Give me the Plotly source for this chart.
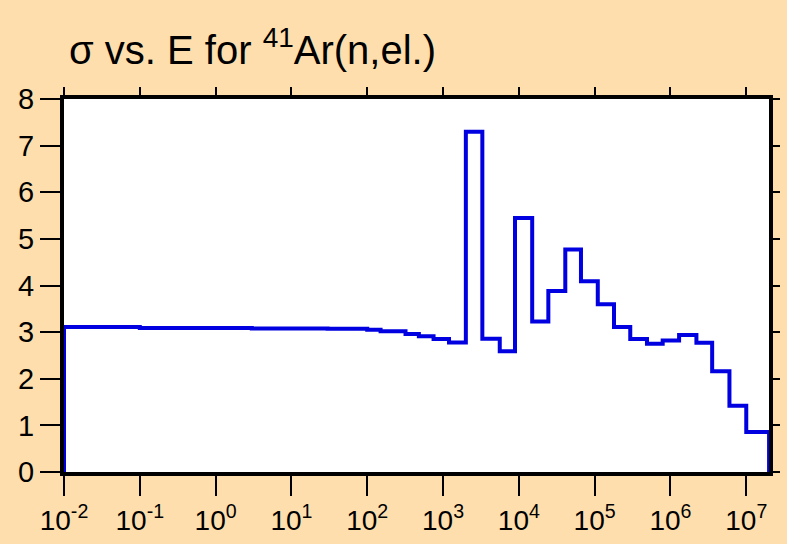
import plotly.graph_objects as go

# Bin edges (eV) and elastic cross sections (b) for 41Ar
edges = [1e-2, 1e-1, 0.5, 3, 10, 30, 100, 150, 320, 480, 750, 1.2e3,
         2.0e3, 3.3e3, 5.6e3, 8.9e3, 1.5e4, 2.45e4, 4.1e4, 6.6e4, 1.1e5,
         1.8e5, 2.95e5, 4.9e5, 7.9e5, 1.3e6, 2.2e6, 3.55e6, 6.0e6, 1.0e7, 2.0e7]
sigma = [3.11, 3.09, 3.09, 3.08, 3.08, 3.07, 3.05, 3.02, 2.96, 2.91, 2.85,
         2.78, 7.30, 2.86, 2.59, 5.45, 3.23, 3.88, 4.77, 4.09, 3.60, 3.11,
         2.85, 2.75, 2.82, 2.94, 2.77, 2.16, 1.42, 0.86]

xtick_vals = [10.0 ** p for p in range(-2, 8)]
xtick_text = ["10<sup>%d</sup>" % p for p in range(-2, 8)]
ytick_vals = list(range(0, 9))

# Histogram outline drawn as a step line
x_step = [edges[0]] + edges + [edges[-1]]
y_step = [0] + sigma + [sigma[-1], 0]

font_name = "Liberation Sans, Arial, sans-serif"
x_range = [-2, 7.3]

fig = go.Figure()
fig.add_trace(go.Scatter(
    x=x_step, y=y_step, mode="lines", line_shape="hv",
    line=dict(color="rgb(0,0,225)", width=4),
    hoverinfo="skip", showlegend=False,
))
# dummy trace so the top/right tick axes are drawn
fig.add_trace(go.Scatter(
    x=[1e3], y=[4], xaxis="x2", yaxis="y2", mode="markers",
    marker=dict(opacity=0), hoverinfo="skip", showlegend=False,
))

fig.update_layout(
    width=787, height=544,
    margin=dict(l=64, r=18, t=99, b=72),
    paper_bgcolor="#FFDEAD",
    plot_bgcolor="white",
    font=dict(family=font_name, size=28, color="black"),
    title=dict(
        text="σ vs. E for <sup>41</sup>Ar(n,el.)",
        font=dict(family=font_name, size=40, color="black"),
        x=69 / 787, xanchor="left", xref="container",
        y=1 - 50 / 544, yanchor="middle", yref="container",
        automargin=False,
    ),
    xaxis=dict(
        type="log", range=x_range,
        tickvals=xtick_vals, ticktext=xtick_text,
        ticks="outside", ticklen=20, tickwidth=2, tickcolor="black",
        showline=True, linewidth=4, linecolor="black", mirror=True,
        showgrid=False, zeroline=False, automargin=False,
        tickfont=dict(size=28),
    ),
    yaxis=dict(
        range=[0, 8], tickvals=ytick_vals,
        ticks="outside", ticklen=20, tickwidth=2, tickcolor="black",
        showline=True, linewidth=4, linecolor="black", mirror=True,
        showgrid=False, zeroline=False, automargin=False,
        tickfont=dict(size=29),
    ),
    xaxis2=dict(
        type="log", range=x_range, overlaying="x", side="top",
        tickvals=xtick_vals, showticklabels=False,
        ticks="outside", ticklen=11, tickwidth=2, tickcolor="black",
        showline=False, showgrid=False, zeroline=False, automargin=False,
    ),
    yaxis2=dict(
        range=[0, 8], overlaying="y", side="right",
        tickvals=ytick_vals, showticklabels=False,
        ticks="outside", ticklen=10, tickwidth=2, tickcolor="black",
        showline=False, showgrid=False, zeroline=False, automargin=False,
    ),
)

fig.write_html(
    "out.html",
    config={"displayModeBar": False},
    post_script="document.body.style.margin='0';"
                "document.body.style.background='#FFDEAD';",
)
